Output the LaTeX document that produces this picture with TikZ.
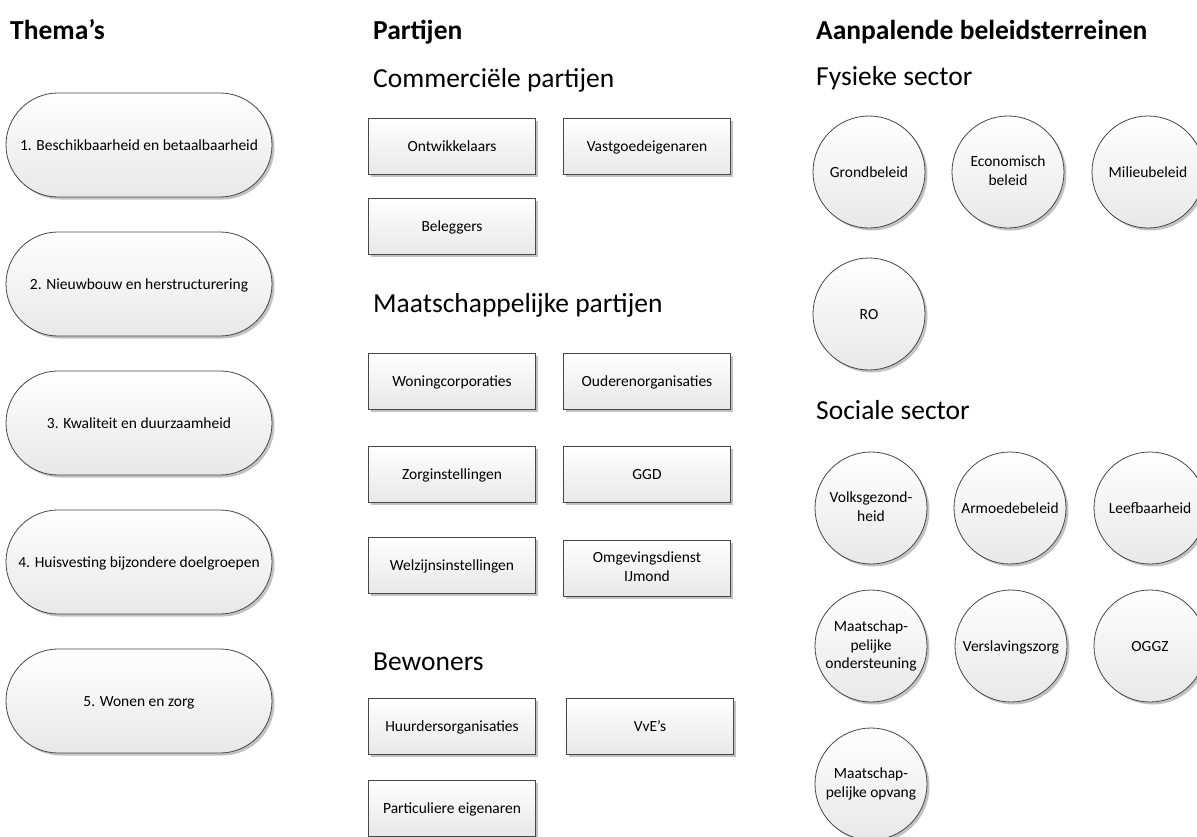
\documentclass[tikz,border=0pt]{standalone}
\usepackage{fontspec}
\setmainfont{Carlito}
\usetikzlibrary{shapes.misc,shadows}
\begin{document}
\begin{tikzpicture}[x=1pt,y=-1pt,
  base/.style={draw=black!72, line width=0.8pt, top color=white, bottom color=black!9,
    drop shadow={shadow xshift=2.5pt, shadow yshift=-2.5pt, fill=black!40, opacity=0.6},
    font=\fontsize{15.5}{18.5}\selectfont, align=center, text=black,
    execute at begin node={\rule{0pt}{0.9em}},
    execute at end node={\rule[-0.15em]{0pt}{0.15em}}},
  pill/.style={base, rounded rectangle, minimum width=266pt, minimum height=104pt, inner sep=0pt},
  box/.style={base, rectangle, minimum width=167pt, minimum height=56pt, inner sep=0pt},
  circ/.style={base, circle, minimum size=112pt, inner sep=0pt},
  head/.style={anchor=base west, inner sep=0pt, font=\bfseries\fontsize{27.5}{33}\selectfont},
  sub/.style={anchor=west, inner sep=0pt, font=\fontsize{27.5}{33}\selectfont}
]
\useasboundingbox (0,0) rectangle (1197,836);

% headings
\node[head] (hThema) at (10,39) {Thema’s};
\node[head] (hPart) at (373,39) {Partijen};
\node[head] (hAanp) at (816,39) {Aanpalende beleidsterreinen};

% Thema's
\node[pill] (t1) at (139,145) {1. Beschikbaarheid en betaalbaarheid};
\node[pill] (t2) at (139,284) {2. Nieuwbouw en herstructurering};
\node[pill] (t3) at (139,423) {3. Kwaliteit en duurzaamheid};
\node[pill] (t4) at (139,562) {4. Huisvesting bijzondere doelgroepen};
\node[pill] (t5) at (139,701) {5. Wonen en zorg};

% Partijen
\node[sub] (sComm) at (373,80) {Commerciële partijen};
\node[box] (p1) at (452,146) {Ontwikkelaars};
\node[box] (p2) at (647,146) {Vastgoedeigenaren};
\node[box] (p3) at (452,226) {Beleggers};

\node[sub] (sMaat) at (373,305) {Maatschappelijke partijen};
\node[box] (p4) at (452,381) {Woningcorporaties};
\node[box] (p5) at (647,381) {Ouderenorganisaties};
\node[box] (p6) at (452,474) {Zorginstellingen};
\node[box] (p7) at (647,474) {GGD};
\node[box] (p8) at (452,565) {Welzijnsinstellingen};
\node[box] (p9) at (647,568) {Omgevingsdienst\\IJmond};

\node[sub] (sBew) at (373,662) {Bewoners};
\node[box] (p10) at (452,726) {Huurdersorganisaties};
\node[box] (p11) at (650,726) {VvE’s};
\node[box] (p12) at (452,808) {Particuliere eigenaren};

% Aanpalende beleidsterreinen
\node[sub] (sFys) at (816,78) {Fysieke sector};
\node[circ] (f1) at (869,172) {Grondbeleid};
\node[circ] (f2) at (1008,172) {Economisch\\beleid};
\node[circ] (f3) at (1148,172) {Milieubeleid};
\node[circ] (f4) at (869,314) {RO};

\node[sub] (sSoc) at (816,410) {Sociale sector};
\node[circ] (s1) at (871,508) {Volksgezond-\\heid};
\node[circ] (s2) at (1010,508) {Armoedebeleid};
\node[circ] (s3) at (1150,508) {Leefbaarheid};
\node[circ] (s4) at (871,646) {Maatschap-\\pelijke\\ondersteuning};
\node[circ] (s5) at (1011,646) {Verslavingszorg};
\node[circ] (s6) at (1150,646) {OGGZ};
\node[circ] (s7) at (871,784) {Maatschap-\\pelijke opvang};
\end{tikzpicture}
\end{document}
